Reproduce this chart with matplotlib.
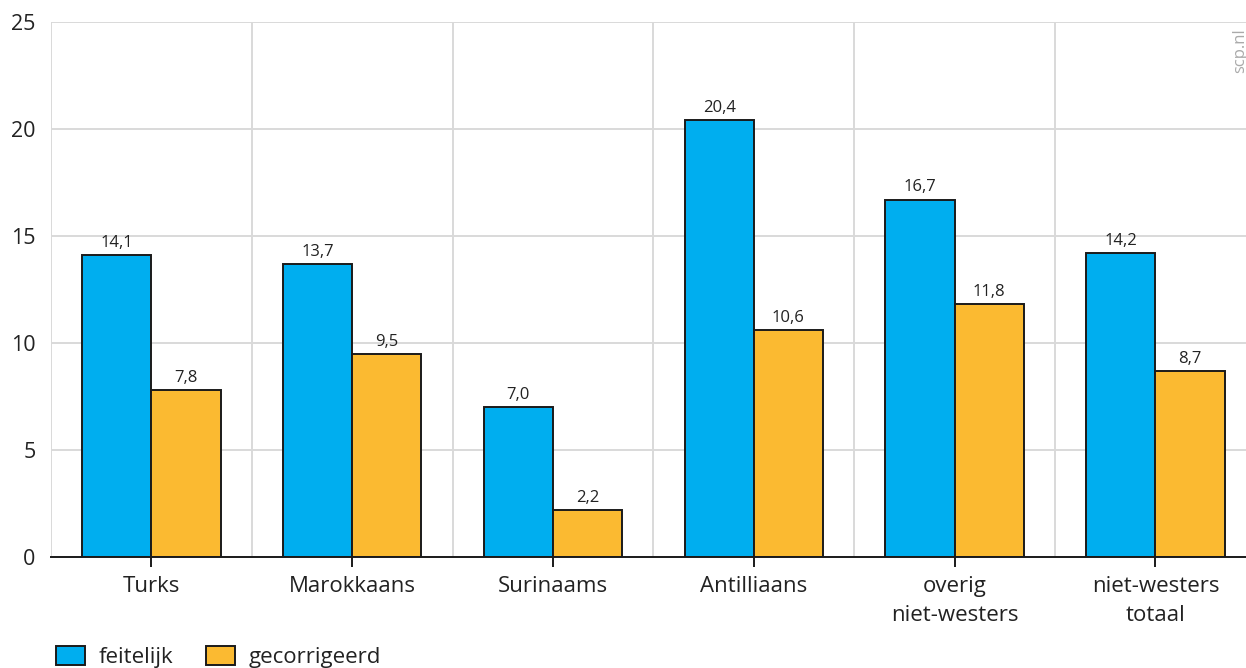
import numpy as np
import matplotlib.pyplot as plt
from matplotlib.ticker import FixedLocator

plt.rcParams['font.family'] = ['Open Sans', 'DejaVu Sans']

groepen = ['Turks', 'Marokkaans', 'Surinaams', 'Antilliaans', 'overig\nniet-westers', 'niet-westers\ntotaal']
feitelijk = [14.1, 13.7, 7.0, 20.4, 16.7, 14.2]
gecorrigeerd = [7.8, 9.5, 2.2, 10.6, 11.8, 8.7]

blauw = '#00aeef'
oranje = '#fbba31'
tekst = '#222222'

fig = plt.figure(figsize=(12.46, 6.68), dpi=100)
ax = fig.add_axes([51 / 1246, 111 / 668, 6 * 200.8 / 1246, 535 / 668])

x = np.arange(len(groepen))
w = 0.345
b1 = ax.bar(x - w / 2, feitelijk, w, color=blauw, edgecolor='#1a1a1a', linewidth=1.4, label='feitelijk', zorder=3)
b2 = ax.bar(x + w / 2, gecorrigeerd, w, color=oranje, edgecolor='#1a1a1a', linewidth=1.4, label='gecorrigeerd', zorder=3)

for bars, vals in ((b1, feitelijk), (b2, gecorrigeerd)):
    for r, v in zip(bars, vals):
        ax.annotate(f'{v:.1f}'.replace('.', ','), (r.get_x() + r.get_width() / 2, v),
                    xytext=(0, 3), textcoords='offset points', ha='center', va='bottom',
                    fontsize=12, color=tekst)

ax.set_xlim(-0.5, 5.5)
ax.set_ylim(0, 25)
ax.set_yticks([0, 5, 10, 15, 20, 25])
ax.set_xticks(x)
ax.set_xticklabels(groepen, fontsize=16, color=tekst, linespacing=1.5)
ax.xaxis.set_minor_locator(FixedLocator(np.arange(-0.5, 6, 1)))
ax.tick_params(axis='y', length=0, pad=11, labelsize=15.5, labelcolor=tekst)
ax.tick_params(axis='x', which='major', length=7, width=1.4, color='#1a1a1a', pad=7)
ax.tick_params(axis='x', which='minor', length=0)

ax.grid(axis='y', color='#d9d9d9', linewidth=1.4, zorder=0)
ax.grid(axis='x', which='minor', color='#d9d9d9', linewidth=1.4, zorder=0)
ax.grid(axis='x', which='major', visible=False)
for s in ['top', 'right', 'left']:
    ax.spines[s].set_visible(False)
ax.spines['bottom'].set_color('#1a1a1a')
ax.spines['bottom'].set_linewidth(1.4)
ax.spines['bottom'].set_zorder(4)

fig.text(1240 / 1246, 1 - 28 / 668, 'scp.nl', rotation=90, ha='center', va='top', fontsize=12, color='#aaaaaa')

fig.legend(handles=[b1, b2], loc='lower left', bbox_to_anchor=(36 / 1246, -20 / 668), ncol=2, frameon=False,
           fontsize=16, handlelength=1.3, handleheight=0.95, columnspacing=1.5, handletextpad=0.6, labelcolor=tekst)

fig.savefig('out.png', dpi=100)
